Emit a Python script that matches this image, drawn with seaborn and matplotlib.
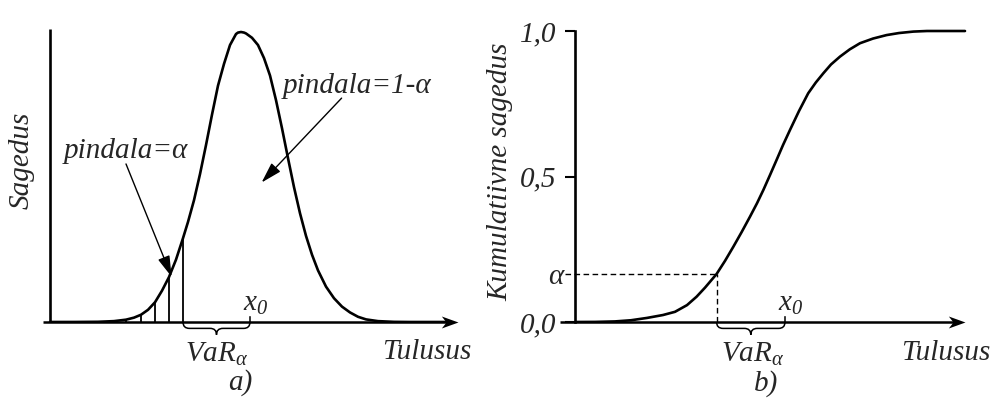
import numpy as np
import pandas as pd
import seaborn as sns
import matplotlib
matplotlib.use("Agg")
import matplotlib.pyplot as plt
from matplotlib.path import Path
from matplotlib.patches import PathPatch

# ---- density curve (panel a) ----
dens_x = [0, 6, 12, 16, 19.0, 21, 22.75, 24.5, 26.25, 28, 29.75, 31.5, 33.25, 34.5,
          36, 37.5, 39, 40.5, 42, 43.5, 45, 46.5, 47.0, 47.75, 48.5, 49, 50.5, 52,
          53.5, 55, 56.5, 58, 59.5, 61, 62.5, 64, 65.5, 67, 69, 71, 73, 75, 77, 79,
          82, 86, 90, 100]
dens_y = [0, 0.0001, 0.0007, 0.003, 0.008, 0.015, 0.025, 0.042, 0.068, 0.108, 0.155,
          0.215, 0.289, 0.345, 0.42, 0.51, 0.61, 0.715, 0.815, 0.89, 0.955, 0.993, 0.998,
          1.0, 0.998, 0.995, 0.98, 0.955, 0.91, 0.85, 0.765, 0.668, 0.565, 0.465, 0.375,
          0.297, 0.232, 0.178, 0.122, 0.082, 0.053, 0.033, 0.018, 0.009, 0.003, 0.0005,
          0, 0]

# hatching in the left tail (area = alpha)
tail_x = [19.0, 22.75, 26.25, 29.75, 33.25]
tail_y = [0.008, 0.025, 0.068, 0.155, 0.289]

# ---- cumulative curve (panel b) ----
cdf_x = [0, 5, 10, 14, 18, 22, 25, 28, 30.4, 32.5, 35.4, 37.5, 39.6, 41.7, 43.75,
         45.5, 47.1, 48.75, 50.4, 52, 53.75, 56, 58.3, 60.2, 62.1, 64, 66.25, 68.7,
         71.25, 74.5, 77.9, 81, 84.6, 88, 97.5]
cdf_y = [0, 0.0003, 0.002, 0.006, 0.014, 0.024, 0.035, 0.058, 0.087, 0.118, 0.165,
         0.21, 0.259, 0.31, 0.362, 0.408, 0.454, 0.505, 0.557, 0.608, 0.66, 0.725,
         0.786, 0.823, 0.855, 0.885, 0.912, 0.937, 0.958, 0.974, 0.986, 0.993, 0.998,
         1.0, 1.0]

alpha_level = 0.165
var_left = [33.25, 50.0]    # VaR cut-off and x0, panel a
var_right = [35.4, 52.5]    # VaR cut-off and x0, panel b
cdf_ticks = [0.0, alpha_level, 0.5, 1.0]
cdf_ticklabels = ["0,0", "α", "0,5", "1,0"]

sns.set_theme(style="white")
plt.rcParams["font.family"] = ["Liberation Serif", "DejaVu Serif"]
plt.rcParams["font.style"] = "italic"
plt.rcParams["mathtext.fontset"] = "custom"
plt.rcParams["mathtext.rm"] = "Liberation Serif"
plt.rcParams["mathtext.it"] = "Liberation Serif:italic"

W, H = 994, 405
fig = plt.figure(figsize=(W / 100, H / 100), dpi=100)
fig.patch.set_facecolor("white")


def px_axes(x0, x1, ytop, ybot):
    return fig.add_axes([x0 / W, 1 - ybot / H, (x1 - x0) / W, (ybot - ytop) / H])


FS = 21
LW = 1.9

# stealth-style arrow head, tip at the origin pointing right
STEALTH = Path([(0, 0), (-1, 0.36), (-0.72, 0), (-1, -0.36), (0, 0)],
               [Path.MOVETO, Path.LINETO, Path.LINETO, Path.LINETO, Path.CLOSEPOLY])


def brace(ax, xa, xb, h1=0.022, h2=0.044, r=1.6, up=0.02):
    xm = (xa + xb) / 2
    verts = [(xa, 0), (xa, -h1), (xa + r, -h1),
             (xm - r, -h1),
             (xm, -h1), (xm, -h2),
             (xm, -h1), (xm + r, -h1),
             (xb - r, -h1),
             (xb, -h1), (xb, 0),
             (xb, up)]
    codes = [Path.MOVETO, Path.CURVE3, Path.CURVE3,
             Path.LINETO,
             Path.CURVE3, Path.CURVE3,
             Path.CURVE3, Path.CURVE3,
             Path.LINETO,
             Path.CURVE3, Path.CURVE3,
             Path.LINETO]
    ax.add_patch(PathPatch(Path(verts, codes), fill=False, lw=1.1, color="black",
                           clip_on=False))


def axis_arrow(ax, x0, x1):
    ax.plot([x0, x1 - 1.5], [0, 0], color="black", lw=1.8, clip_on=False,
            solid_capstyle="butt")
    ax.plot([x1], [0], marker=STEALTH, markersize=24, color="black", mew=0,
            clip_on=False)


# ================= panel a =================
axa = px_axes(43, 462, 25, 322)
axa.set_xlim(-1.75, 103)
axa.set_ylim(0, (322 - 25) / 290)
for s in axa.spines.values():
    s.set_visible(False)
axa.set_xticks([])
axa.set_yticks([])

axa.plot([0, 0], [0, (322 - 29) / 290], color="black", lw=LW, solid_capstyle="butt")
axis_arrow(axa, -1.75, 102)
sns.lineplot(x=dens_x, y=dens_y, ax=axa, color="black", lw=LW, sort=False,
             estimator=None)
axa.vlines(tail_x, 0, tail_y, color="black", lw=1.3)
brace(axa, var_left[0], var_left[1])

axa.text(var_left[1] + 1.3, 0.016, r"$x_0$", fontsize=FS, ha="center", va="bottom")
axa.text(41.75, -0.11, r"$VaR_\alpha$", fontsize=FS, ha="center", va="center")
axa.text(94.3, -0.105, "Tulusus", fontsize=FS, ha="center", va="center")
axa.text(47.5, -0.21, "a)", fontsize=FS, ha="center", va="center")
axa.text(19.0, 0.59, "pindala=α", fontsize=FS, ha="center", va="center")
axa.text(76.75, 0.815, "pindala=1-α", fontsize=FS, ha="center", va="center")

arrow_kw = dict(arrowstyle="-|>,head_length=0.75,head_width=0.22", mutation_scale=17,
                lw=1.0, color="black", shrinkA=0, shrinkB=0)
axa.annotate("", xy=(30.4, 0.156), xytext=(19.0, 0.545), arrowprops=arrow_kw)
axa.annotate("", xy=(52.9, 0.481), xytext=(72.9, 0.772), arrowprops=arrow_kw)

fig.text(22 / W, 1 - 160 / H, "Sagedus", fontsize=FS, rotation=90,
         ha="center", va="center")

# ================= panel b =================
axb = px_axes(560, 968, 25, 322)
axb.set_xlim(-3.75, 98.25)
axb.set_ylim(0, (322 - 25) / 291)
for s in axb.spines.values():
    s.set_visible(False)
axb.spines["left"].set_visible(True)
axb.spines["left"].set_position(("data", 0))
axb.spines["left"].set_bounds(0, 1.0)
axb.spines["left"].set_linewidth(LW)
axb.spines["left"].set_color("black")
axb.set_xticks([])
axb.set_yticks(cdf_ticks)
axb.set_yticklabels(cdf_ticklabels, fontsize=FS)
axb.tick_params(axis="y", direction="out", length=7.2, width=1.5, color="black",
                pad=6, left=True)
ticks = axb.yaxis.get_major_ticks()
ticks[1].tick1line.set_visible(False)
ticks[1].set_pad(1.0)

axis_arrow(axb, -3.75, 97.5)
sns.lineplot(x=cdf_x, y=cdf_y, ax=axb, color="black", lw=LW, sort=False,
             estimator=None)
axb.plot([-2.5, var_right[0]], [alpha_level, alpha_level], color="black", lw=1.0,
         ls=(0, (4, 2.5)), clip_on=False)
axb.plot([var_right[0], var_right[0]], [0, alpha_level], color="black", lw=1.0,
         ls=(0, (4, 2.5)))
brace(axb, var_right[0], var_right[1])

axb.text(var_right[1] + 1.3, 0.016, r"$x_0$", fontsize=FS, ha="center", va="bottom")
axb.text(44.5, -0.11, r"$VaR_\alpha$", fontsize=FS, ha="center", va="center")
axb.text(92.75, -0.105, "Tulusus", fontsize=FS, ha="center", va="center")
axb.text(47.75, -0.21, "b)", fontsize=FS, ha="center", va="center")

fig.text(500 / W, 1 - 172 / H, "Kumulatiivne sagedus", fontsize=FS, rotation=90,
         ha="center", va="center")

fig.savefig("out.png", dpi=100, facecolor="white")
